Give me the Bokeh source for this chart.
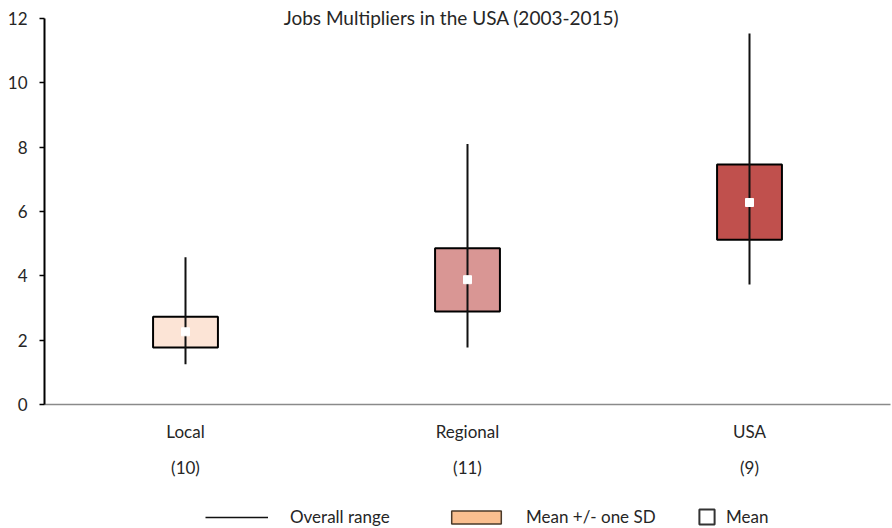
from bokeh.plotting import figure
from bokeh.models import (FactorRange, Range1d, CategoricalAxis, Legend, LegendItem,
                          Label, ColumnDataSource, FixedTicker)
from bokeh.layouts import column
from bokeh.embed import file_html
from bokeh.resources import INLINE

# ---- data ----
categories = ["Local", "Regional", "USA"]
counts = ["(10)", "(11)", "(9)"]
range_min = [1.25, 1.77, 3.73]
range_max = [4.58, 8.10, 11.53]
sd_low = [1.77, 2.89, 5.12]
sd_high = [2.73, 4.86, 7.46]
mean = [2.26, 3.88, 6.28]
box_colors = ["#FCE4D6", "#D99694", "#C0504D"]
y_ticks = [0, 2, 4, 6, 8, 10, 12]
title_text = "Jobs Multipliers in the USA (2003-2015)"
legend_labels = ["Overall range", "Mean +/- one SD", "Mean"]

FONT = "Lato"
TXT = "#262626"
NAN = float("nan")

src = ColumnDataSource(dict(cat=categories, lo=range_min, hi=range_max,
                            sdl=sd_low, sdh=sd_high, m=mean, c=box_colors))

p = figure(width=892, height=480, x_range=FactorRange(*categories, range_padding=0),
           y_range=Range1d(0, 12.435), output_backend="svg", toolbar_location=None,
           min_border_left=44, min_border_right=2, min_border_top=4, min_border_bottom=76)
p.outline_line_color = None
p.grid.grid_line_color = None

p.vbar(x="cat", bottom="sdl", top="sdh", width=0.23, source=src,
       fill_color="c", line_color="black", line_width=2)
p.segment(x0="cat", y0="lo", x1="cat", y1="hi", source=src,
          line_color="#111111", line_width=2)
p.scatter(x="cat", y="m", source=src, marker="square", size=8,
          fill_color="white", line_color="white")

# y axis
ya = p.yaxis[0]
ya.ticker = FixedTicker(ticks=y_ticks)
ya.bounds = (0, 12)
ya.axis_line_color = "black"
ya.axis_line_width = 2
ya.major_tick_line_color = "black"
ya.major_tick_line_width = 1.5
ya.major_tick_out = 5
ya.major_tick_in = 0
ya.minor_tick_line_color = None
ya.major_label_text_font = FONT
ya.major_label_text_font_size = "17px"
ya.major_label_text_color = TXT
ya.major_label_standoff = 12

# x axis (categories)
xa = p.xaxis[0]
xa.axis_line_color = "#8a8a8a"
xa.axis_line_width = 1.5
xa.major_tick_line_color = None
xa.minor_tick_line_color = None
xa.major_label_text_font = FONT
xa.major_label_text_font_size = "17px"
xa.major_label_text_color = TXT
xa.major_label_standoff = 10

# second axis with counts
p.extra_x_ranges = {"counts": FactorRange(*counts, range_padding=0)}
xa2 = CategoricalAxis(x_range_name="counts", axis_line_color=None,
                      major_tick_line_color=None, minor_tick_line_color=None,
                      major_label_text_font=FONT, major_label_text_font_size="17px",
                      major_label_text_color=TXT, major_label_standoff=6)
p.add_layout(xa2, "below")

# title
p.add_layout(Label(x=407, y=387, x_units="screen", y_units="screen", text=title_text,
                   text_font=FONT, text_font_size="19px", text_color=TXT,
                   text_align="center", text_baseline="middle"))

# ---- legend strip ----
lg = figure(width=892, height=48, x_range=Range1d(0, 1), y_range=Range1d(0, 1),
            output_backend="svg", toolbar_location=None, x_axis_type=None,
            y_axis_type=None, min_border_left=44, min_border_right=2,
            min_border_top=0, min_border_bottom=0)
lg.outline_line_color = None
lg.grid.grid_line_color = None

# legend-only renderers (one NaN point each, so nothing is drawn in the strip)
r_line = lg.segment(x0=[NAN], y0=[NAN], x1=[NAN], y1=[NAN], line_color="#111111", line_width=1.5)
r_box = lg.vbar(x=[NAN], bottom=[NAN], top=[NAN], width=0.1, fill_color="#FABF8F",
                line_color="#4a3a2a", line_width=1.5)
r_mean = lg.vbar(x=[NAN], bottom=[NAN], top=[NAN], width=0.1, fill_color="white",
                 line_color="#333333", line_width=2)

FRAME_LEFT = 44

def mk_legend(item_label, rend, x, gw, gh, standoff):
    leg = Legend(items=[LegendItem(label=item_label, renderers=[rend])],
                 location=(x - FRAME_LEFT, 1), orientation="horizontal",
                 glyph_width=gw, glyph_height=gh, label_standoff=standoff,
                 padding=0, margin=0, border_line_alpha=0, background_fill_alpha=0,
                 label_text_font=FONT, label_text_font_size="17px",
                 label_text_color=TXT, label_height=16)
    lg.add_layout(leg, "center")

mk_legend(legend_labels[0], r_line, 205, 63, 16, 22)
mk_legend(legend_labels[1], r_box, 445, 62, 16, 19)
mk_legend(legend_labels[2], r_mean, 697, 19, 19, 10)

layout = column(p, lg, spacing=0)
open("out.html", "w").write(file_html(layout, INLINE))
